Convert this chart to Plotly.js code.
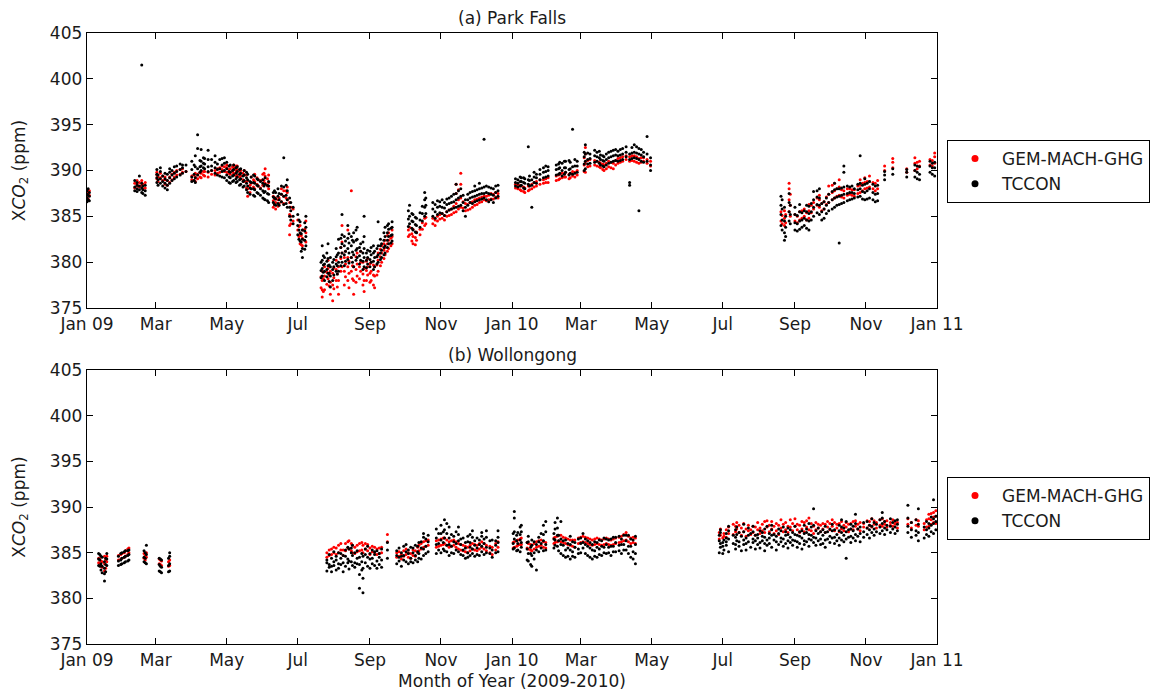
<!DOCTYPE html>
<html>
<head>
<meta charset="utf-8">
<script src="https://cdn.plot.ly/plotly-3.0.1.min.js"></script>
<style>html,body{margin:0;padding:0;background:#fff;}#chart{width:1169px;height:696px;}</style>
</head>
<body>
<div id="chart"></div>
<script>
// ---- Tick labels ----
const tickVals = ['2009-01-01','2009-03-01','2009-05-01','2009-07-01','2009-09-01','2009-11-01',
  '2010-01-01','2010-03-01','2010-05-01','2010-07-01','2010-09-01','2010-11-01','2011-01-01'];
const tickText = ['Jan 09','Mar','May','Jul','Sep','Nov','Jan 10','Mar','May','Jul','Sep','Nov','Jan 11'];
const yTicks = [375,380,385,390,395,400,405];

// ---- (a) Park Falls, GEM-MACH-GHG: [date, values...] ----
const pfGem = [
['2009-01-01',387.1,387.6,387.9],['2009-01-02',386.9,387.4],['2009-01-03',387.3,387.8],
['2009-02-11',388.1,388.6],['2009-02-13',388.3,388.9,388.5],['2009-02-15',388.2,388.7],['2009-02-17',388.4,388.9],['2009-02-18',388.0,388.5],['2009-02-20',388.1,388.7],
['2009-03-02',389.1,389.5,389.8],['2009-03-03',388.8,389.3],['2009-03-05',389.2,389.7],['2009-03-07',388.9,389.4],['2009-03-09',388.5,389.0,389.3],
['2009-03-11',388.4,388.9],['2009-03-13',388.7,389.3],['2009-03-15',389.0,389.6],['2009-03-17',389.3,389.8],['2009-03-19',389.5,390.0],
['2009-03-22',389.6,390.1],['2009-03-24',389.8,390.2],['2009-03-27',389.9],
['2009-04-01',389.0,389.4],['2009-04-03',388.9,389.5],['2009-04-04',388.8,389.3,389.7],['2009-04-06',389.1,389.6],['2009-04-08',389.3,389.8],
['2009-04-09',389.2,389.7],['2009-04-11',389.5,389.9],['2009-04-12',389.4,389.9],['2009-04-15',389.3,389.8],['2009-04-18',389.6,390.0],
['2009-04-21',389.5,390.0],['2009-04-23',389.7,390.2],['2009-04-25',389.8,390.3],['2009-04-27',390.1,390.5],['2009-04-29',389.9,390.4],
['2009-05-01',389.8,390.3,390.6],['2009-05-03',389.7,390.1],['2009-05-04',389.6,390.2],['2009-05-06',389.9,390.4],['2009-05-07',389.7,390.3,390.6],
['2009-05-09',389.4,390.0,390.5],['2009-05-10',389.5,390.1,390.5],['2009-05-12',389.3,389.9],['2009-05-13',389.4,390.0],['2009-05-15',389.0,389.7],
['2009-05-16',388.8,389.5,390.0],['2009-05-18',388.1,388.8,389.5],['2009-05-19',387.2,388.0,388.9],['2009-05-21',387.6,388.4],['2009-05-22',388.6,389.3],
['2009-05-24',388.2,389.0],['2009-05-25',388.0,388.8,389.6],['2009-05-27',388.5,389.2],['2009-05-28',388.3,389.0],['2009-05-30',388.1,388.9],
['2009-06-01',388.4,389.0,389.6],['2009-06-02',388.9,389.7],['2009-06-03',388.6,389.4,390.2],['2009-06-05',388.3,389.1],['2009-06-06',388.0,388.7,389.5],
['2009-06-10',386.0,386.7,387.2],['2009-06-11',386.3,386.9],['2009-06-12',385.8,386.5,387.0],['2009-06-14',386.1,386.8],['2009-06-15',386.4,387.0],
['2009-06-17',386.6,387.4,388.0],['2009-06-19',386.4,387.2,387.8],['2009-06-21',387.0,387.8],['2009-06-22',386.8,387.6,388.2],
['2009-06-24',383.0,384.0,385.2,386.5],['2009-06-25',384.2,385.0,386.0],['2009-06-27',384.5,385.8],
['2009-07-01',383.5,384.6],['2009-07-02',382.8,383.9],['2009-07-03',382.0,383.0,384.0],['2009-07-04',381.9,382.9],['2009-07-05',381.8,382.6,383.5],
['2009-07-07',382.4,383.6],['2009-07-08',382.2,383.2,384.5],
['2009-07-21',377.2,378.4],['2009-07-22',376.2,377.0,378.0,379.0],['2009-07-23',376.8,378.2],['2009-07-24',377.0,378.5,379.5],['2009-07-26',377.6,378.9],
['2009-07-27',378.2,379.3,380.2],['2009-07-28',377.4,378.6],['2009-07-29',376.5,377.8,379.0],['2009-07-31',375.8,377.5,378.8],['2009-08-01',377.1,378.3,379.4],
['2009-08-03',378.0,379.2,380.2],['2009-08-04',377.3,378.7],['2009-08-05',376.5,378.0,379.5],['2009-08-07',379.0,380.4,381.6],['2009-08-08',379.5,381.0,382.2,384.0],
['2009-08-10',377.5,379.0,380.5],['2009-08-11',378.4,379.8,381.2],['2009-08-13',378.0,379.5,380.5,383.5],['2009-08-14',377.2,378.8,380.1],
['2009-08-16',379.0,380.5,387.8],['2009-08-17',378.2,379.6],['2009-08-18',376.5,378.0,379.5],['2009-08-20',377.8,379.2,380.6],['2009-08-21',378.5,379.8,381.0],
['2009-08-23',378.2,379.5],['2009-08-24',379.0,380.0,381.2],['2009-08-26',377.5,378.7,380.0],['2009-08-27',376.8,378.0,379.3],['2009-08-29',378.0,379.1,380.1],
['2009-08-30',378.6,379.5,380.4],['2009-09-01',377.8,378.8,379.8],['2009-09-02',378.0,379.0,380.0],['2009-09-04',377.5,378.6,379.7],['2009-09-05',377.2,378.5,379.5],
['2009-09-07',378.6,379.7,380.6],['2009-09-08',379.0,380.2,381.0],['2009-09-10',379.6,380.6,381.4],['2009-09-11',380.0,381.0,381.8],['2009-09-13',380.4,381.3,382.0],
['2009-09-14',380.8,381.6,382.4],['2009-09-16',381.2,382.0,382.9],['2009-09-17',381.5,382.4,383.2],['2009-09-19',381.8,382.6],['2009-09-20',382.0,382.8,383.5],
['2009-10-04',382.8,383.5],['2009-10-05',383.0,383.8],['2009-10-07',382.3,383.1],['2009-10-08',382.0,382.8,383.6],['2009-10-10',381.9,382.7],
['2009-10-11',382.4,383.3],['2009-10-14',383.0,383.6],['2009-10-16',383.6,384.3],['2009-10-18',384.0,384.8],['2009-10-19',384.2,384.9],
['2009-10-25',384.2,384.8],['2009-10-27',384.0,384.6],['2009-10-29',384.5,385.0],['2009-10-31',384.7,385.2],['2009-11-02',384.8,385.3],
['2009-11-04',384.6,385.1],['2009-11-06',385.0,385.5],['2009-11-08',385.1,385.7],['2009-11-10',385.2,385.8],['2009-11-12',385.4,386.1],
['2009-11-14',385.5,386.4,387.5,388.5],['2009-11-16',385.8,386.8,387.9],['2009-11-18',386.0,387.0,388.5,389.7],['2009-11-20',385.9,386.6],
['2009-11-22',385.6,386.4],['2009-11-24',385.7,386.3],['2009-11-26',385.8,386.5],['2009-11-28',386.0,386.6],['2009-11-30',386.2,386.8],
['2009-12-02',386.3,386.9],['2009-12-04',386.5,387.0],['2009-12-06',386.6,387.1],['2009-12-08',386.8,387.2],['2009-12-10',386.7,387.2],
['2009-12-12',386.8,387.3],['2009-12-14',386.9,387.5],['2009-12-16',386.9,387.4],['2009-12-18',387.1,387.6],['2009-12-20',387.0,387.5],
['2010-01-04',388.1,388.5],['2010-01-06',388.0,388.4],['2010-01-08',387.9,388.4],['2010-01-09',387.8,388.3],['2010-01-11',387.7,388.2],
['2010-01-12',387.6,388.1],['2010-01-15',387.8,388.3],['2010-01-16',387.9,388.4],['2010-01-18',388.0,388.5],['2010-01-20',388.2,388.7],
['2010-01-22',388.3,388.8],['2010-01-25',388.5,389.0],['2010-01-28',388.6,389.0],['2010-01-30',388.7,389.1],['2010-02-01',388.7,389.2],
['2010-02-08',388.9,389.4],['2010-02-10',389.0,389.5],['2010-02-11',389.1,389.6],['2010-02-13',389.2,389.7],['2010-02-15',389.3,389.7],
['2010-02-16',389.3,389.8],['2010-02-19',389.1,389.6],['2010-02-20',389.2,389.7],['2010-02-22',389.4,389.9],['2010-02-24',389.3,389.8],
['2010-02-26',389.5,390.0],['2010-03-04',389.9,390.6,391.4],['2010-03-05',389.8,390.8,391.8,392.5],['2010-03-07',390.4,391.1],['2010-03-09',390.5,391.2],
['2010-03-13',390.6,391.1],['2010-03-15',390.5,391.0],['2010-03-17',390.4,390.9],['2010-03-18',390.3,390.8],['2010-03-20',390.1,390.7],
['2010-03-21',390.0,390.6],['2010-03-23',390.2,390.8],['2010-03-25',390.4,391.0],['2010-03-27',390.3,390.9],['2010-03-29',390.2,390.8],
['2010-03-31',390.6,391.1],['2010-04-02',390.8,391.3],['2010-04-04',390.9,391.4],['2010-04-06',391.0,391.5],['2010-04-09',391.2,391.6],
['2010-04-12',391.0,391.5],['2010-04-14',391.1,391.6],['2010-04-16',391.0,391.6],['2010-04-18',390.9,391.5],['2010-04-20',390.8,391.3],
['2010-04-22',390.9,391.4],['2010-04-24',391.0,391.4],['2010-04-27',390.8,391.2],['2010-04-30',390.5,391.0],
['2010-08-20',384.5,385.5],['2010-08-21',384.2,385.1],['2010-08-23',384.0,384.8,385.6],['2010-08-24',384.3,385.2],['2010-08-27',385.5,386.8,388.0,388.6],
['2010-08-28',385.0,386.2,387.4],['2010-09-01',384.5,385.2],['2010-09-03',384.3,385.0],['2010-09-05',384.6,385.5],['2010-09-07',384.8,385.6],
['2010-09-09',385.0,385.8],['2010-09-11',384.6,385.4],['2010-09-13',384.8,385.6,386.3],['2010-09-15',385.4,386.2],['2010-09-17',385.8,386.5],
['2010-09-20',386.2,387.0],['2010-09-22',386.0,386.8,387.3],['2010-09-24',385.6,386.4],['2010-09-26',385.8,386.6],['2010-09-28',386.3,387.1],
['2010-09-30',386.5,387.4,388.3],['2010-10-03',386.8,387.6,388.4],['2010-10-05',387.0,387.8,388.6],['2010-10-07',387.2,388.0],
['2010-10-09',387.3,388.2,389.0],['2010-10-11',387.1,387.9],['2010-10-13',387.0,387.8],['2010-10-16',387.3,388.0],['2010-10-18',387.4,388.0],
['2010-10-20',387.3,387.9],['2010-10-22',387.2,387.9],['2010-10-25',387.5,388.3],['2010-10-27',387.6,388.4,389.0],['2010-10-29',387.8,388.6],
['2010-10-31',388.0,388.7,389.2],['2010-11-02',388.1,388.8],['2010-11-04',388.2,388.8,389.4],['2010-11-07',388.0,388.7],['2010-11-09',387.8,388.6],
['2010-11-11',388.0,388.9],['2010-11-17',390.0,390.5],['2010-11-24',390.3,390.9,391.3],['2010-12-06',389.8,390.2],['2010-12-13',390.0,390.8,391.4],
['2010-12-15',390.2,390.9],['2010-12-17',390.5,391.0],['2010-12-26',390.6,391.2],['2010-12-28',390.5,391.1],['2010-12-30',390.8,391.5,391.9]
];
// ---- (a) Park Falls, TCCON ----
const pfTccon = [
['2009-01-01',386.6,387.0,387.4,387.8],['2009-01-02',386.8,387.3,388.0],['2009-01-03',386.7,387.2,387.6],
['2009-02-11',387.8,388.2,388.9],['2009-02-13',388.0,388.4,388.7,387.7],['2009-02-15',387.9,388.3,389.4],['2009-02-17',387.6,388.1,388.6,401.5],
['2009-02-18',387.5,387.9,388.3],['2009-02-20',387.3,387.8,388.4],
['2009-03-02',388.7,389.2,389.6,390.1],['2009-03-03',388.4,389.0,389.5],['2009-03-05',388.6,389.1,389.9,390.3],['2009-03-07',388.3,388.8,389.4],
['2009-03-09',388.1,388.6,389.1,389.7],['2009-03-11',387.9,388.4,388.9,389.6],['2009-03-13',388.6,389.2,389.8,390.2],['2009-03-15',388.9,389.5,390.0],
['2009-03-17',389.1,389.7,390.4],['2009-03-19',389.3,389.9,390.5],['2009-03-22',389.5,390.1,390.7],['2009-03-24',389.7,390.3,390.6],['2009-03-27',389.9,390.6],
['2009-04-01',388.8,389.3,390.1,391.0],['2009-04-03',388.9,389.6,390.6],['2009-04-04',388.7,389.2,390.4,391.6],['2009-04-06',389.5,390.2,392.4,393.9],
['2009-04-08',389.8,390.4,391.1],['2009-04-09',390.0,390.5,391.0,392.3],['2009-04-11',390.3,390.8,391.4],['2009-04-12',390.2,390.7,391.3],
['2009-04-15',389.9,390.4,391.2,392.2],['2009-04-18',390.0,390.5,391.2],['2009-04-21',389.7,390.3,390.9,391.6],['2009-04-23',389.5,390.1,390.7],
['2009-04-25',389.4,390.2,391.2],['2009-04-27',389.3,389.9,390.6,391.3],['2009-04-29',389.2,390.0,390.8,391.4],
['2009-05-01',388.9,389.5,390.2,390.9],['2009-05-03',388.7,389.3,389.9,390.5],['2009-05-04',388.6,389.2,389.8,390.6],['2009-05-06',388.8,389.4,390.0],
['2009-05-07',388.9,389.5,390.1,390.6],['2009-05-09',388.7,389.1,389.7,390.3],['2009-05-10',388.8,389.3,389.9,390.4],['2009-05-12',388.4,389.0,389.6,390.1],
['2009-05-13',388.5,389.1,389.7,390.2],['2009-05-15',388.2,388.8,389.4],['2009-05-16',388.3,388.9,389.5,390.0],['2009-05-18',387.9,388.6,389.2,389.8],
['2009-05-19',387.6,388.3,389.0,389.6],['2009-05-21',387.4,388.1,388.8],['2009-05-22',388.0,388.7,389.3],['2009-05-24',387.3,388.0,388.7,389.5],
['2009-05-25',387.2,387.9,388.6,389.4],['2009-05-27',387.6,388.4,389.1],['2009-05-28',387.5,388.3,389.0],['2009-05-30',387.3,388.0,388.8],
['2009-06-01',387.0,387.8,388.6,389.0],['2009-06-02',386.9,387.6,388.3],['2009-06-03',386.8,387.7,388.5,389.2],['2009-06-05',386.7,387.5,388.4],
['2009-06-06',386.5,387.4,388.3,388.8],['2009-06-10',386.5,387.1,387.6],['2009-06-11',386.3,387.0,387.8],['2009-06-12',386.2,386.9,387.6],
['2009-06-14',386.4,387.2,388.0],['2009-06-15',386.2,386.8,387.5],['2009-06-17',386.6,387.4,388.3],['2009-06-19',386.3,387.2,388.2,391.4],
['2009-06-21',386.4,387.3,388.4],['2009-06-22',386.0,386.8,387.8,389.0],['2009-06-24',385.0,386.0,387.0],['2009-06-25',384.6,385.6,386.5],
['2009-06-27',384.2,385.0,386.0],
['2009-07-01',383.0,384.0,385.2],['2009-07-02',382.5,383.5,384.6],['2009-07-03',382.3,383.2,384.4],['2009-07-04',381.2,382.2,383.1],
['2009-07-05',380.5,381.5,382.5,383.5],['2009-07-07',381.4,382.4,383.4,384.3],['2009-07-08',381.8,382.8,383.8,385.0],
['2009-07-21',378.3,379.1,380.0],['2009-07-22',378.5,379.3,380.2,381.8],['2009-07-23',378.9,379.7,380.7],['2009-07-24',378.0,379.0,379.8,380.5],
['2009-07-26',378.4,379.2,380.1,381.0],['2009-07-27',378.8,379.6,380.4,382.0],['2009-07-28',377.9,378.8,379.7],['2009-07-29',377.3,378.5,379.5,380.5],
['2009-07-31',378.0,379.2,380.0],['2009-08-01',378.6,379.5,380.3],['2009-08-03',379.0,379.8,380.6,381.5],['2009-08-04',378.7,379.6,380.8],
['2009-08-05',379.0,380.0,381.0,382.5],['2009-08-07',379.6,380.6,381.6,382.6],['2009-08-08',380.0,381.0,382.0,383.0,385.2],
['2009-08-10',379.6,380.8,381.8,382.8],['2009-08-11',380.1,381.2,382.3],['2009-08-13',380.3,381.5,382.6,384.0],['2009-08-14',379.9,381.0,382.1,383.1],
['2009-08-16',380.5,381.8,382.8],['2009-08-17',380.0,381.1,382.4],['2009-08-18',379.5,380.8,382.2,383.2],['2009-08-20',380.2,381.3,382.4,383.5],
['2009-08-21',380.5,381.5,382.5,383.8],['2009-08-23',379.8,380.7,381.6],['2009-08-24',380.2,381.2,382.0],['2009-08-26',379.2,380.1,381.0,382.2],
['2009-08-27',379.5,380.5,381.5,382.8,385.0],['2009-08-29',379.4,380.2,381.0],['2009-08-30',379.8,380.5,381.3],['2009-09-01',379.5,380.3,381.2],
['2009-09-02',380.0,380.8,381.6],['2009-09-04',379.2,380.1,381.0,381.8],['2009-09-05',379.5,380.5,381.2],['2009-09-07',379.8,380.6,381.5],
['2009-09-08',380.0,380.8,381.8,384.4],['2009-09-10',380.3,381.0,381.8,382.5],['2009-09-11',380.5,381.3,382.0],['2009-09-13',380.8,381.6,382.4,383.2],
['2009-09-14',381.0,381.8,382.8,383.8],['2009-09-16',381.6,382.4,383.2,384.0],['2009-09-17',382.0,382.8,383.6,384.2],['2009-09-19',382.1,382.9,383.7],
['2009-09-20',382.3,383.0,383.8,384.4],
['2009-10-04',383.9,384.7,385.6],['2009-10-05',384.2,385.0,386.2],['2009-10-07',383.7,384.5,385.3],['2009-10-08',383.5,384.4,385.2],
['2009-10-10',383.3,384.1,384.9],['2009-10-11',383.2,384.0,384.8],['2009-10-14',383.8,384.6,385.4],['2009-10-16',384.5,385.3,386.1],
['2009-10-18',385.0,386.0,386.8,387.6],['2009-10-19',385.3,386.2,387.0],['2009-10-25',385.0,385.8,386.5],['2009-10-27',384.8,385.5,386.3],
['2009-10-29',385.2,386.0,386.7],['2009-10-31',385.4,386.1,386.6],['2009-11-02',385.3,386.0,386.8],['2009-11-04',385.1,385.9,386.5],
['2009-11-06',385.5,386.3,386.9],['2009-11-08',385.7,386.4,387.0],['2009-11-10',385.8,386.5,387.2],['2009-11-12',385.9,386.6,387.4],
['2009-11-14',386.0,386.8,387.5,388.5],['2009-11-16',386.1,387.0,387.8],['2009-11-18',386.2,387.2,388.0],['2009-11-20',385.6,386.5,387.3],
['2009-11-22',385.0,386.0,386.8],['2009-11-24',386.2,386.8,387.4],['2009-11-26',386.5,387.0,387.6],['2009-11-28',386.4,387.1,387.7],
['2009-11-30',386.6,387.2,387.8,388.3],['2009-12-02',386.7,387.3,387.9],['2009-12-04',386.8,387.4,388.0,388.6],['2009-12-06',386.9,387.5,388.1],
['2009-12-08',387.0,387.5,388.2,393.4],['2009-12-10',386.8,387.6,388.3],['2009-12-12',386.6,387.5,388.2],['2009-12-14',386.8,387.4,388.1],
['2009-12-16',386.5,387.3,388.0],['2009-12-18',387.0,387.6,388.3],['2009-12-20',387.2,387.8,388.4],
['2010-01-04',388.3,388.7,389.1],['2010-01-06',388.2,388.6,389.0],['2010-01-08',388.3,388.8,389.3],['2010-01-09',388.4,388.8,389.2],
['2010-01-11',388.1,388.7,389.2],['2010-01-12',388.0,388.6,389.1],['2010-01-15',388.5,389.0,392.6],['2010-01-16',388.3,388.9,389.4],
['2010-01-18',388.4,389.0,386.0],['2010-01-20',388.7,389.3,389.8],['2010-01-22',388.6,389.2,389.6],['2010-01-25',389.0,389.6,390.1],
['2010-01-28',389.2,389.8,390.3],['2010-01-30',389.3,389.9,390.5],['2010-02-01',389.4,390.0,390.4],['2010-02-08',389.5,390.1,390.6],
['2010-02-10',389.6,390.2,390.7],['2010-02-11',389.7,390.3,390.9],['2010-02-13',389.4,390.0,390.8],['2010-02-15',389.6,390.3,391.0],
['2010-02-16',389.8,390.3,391.0],['2010-02-19',389.5,390.1,391.1],['2010-02-20',389.7,390.2,390.9],['2010-02-22',389.6,390.4,394.5],
['2010-02-24',389.7,390.5,391.2],['2010-02-26',389.8,390.5,391.0],['2010-03-04',390.0,390.7,391.5,392.0],['2010-03-05',390.2,391.0,391.8,392.8],
['2010-03-07',390.7,391.2,391.9],['2010-03-09',390.8,391.3,391.8],['2010-03-13',390.9,391.6,392.2],['2010-03-15',391.0,391.5,392.0],
['2010-03-17',390.8,391.4,392.1],['2010-03-18',390.6,391.2,391.7],['2010-03-20',390.5,391.1,391.6],['2010-03-21',390.4,391.0,391.5],
['2010-03-23',390.6,391.2,391.8],['2010-03-25',390.8,391.4,392.0],['2010-03-27',390.9,391.5,392.1],['2010-03-29',391.0,391.6,392.2],
['2010-03-31',391.1,391.7,392.3],['2010-04-02',391.0,391.6,392.1],['2010-04-04',391.1,391.7,392.3],['2010-04-06',391.2,391.8,392.4],
['2010-04-09',391.5,392.0,392.6],['2010-04-12',388.4,388.7,391.2,391.8],['2010-04-14',391.3,391.9,392.5],['2010-04-16',391.4,392.0,392.8],
['2010-04-18',391.3,391.9,392.6],['2010-04-20',385.6,391.2,391.8,392.4],['2010-04-22',391.0,391.7,392.3],['2010-04-24',390.9,391.5,392.0],
['2010-04-27',391.0,391.8,393.7],['2010-04-30',390.0,390.6,391.4],
['2010-08-20',384.0,385.2,386.2,387.2],['2010-08-21',383.5,384.6,385.8,386.8],['2010-08-23',382.4,383.2,384.5,386.0],['2010-08-24',382.8,383.8,385.0],
['2010-08-27',384.5,385.5,386.5,387.5],['2010-08-28',384.2,385.2,386.2],['2010-09-01',383.5,384.3,385.2,386.0],['2010-09-03',383.4,384.2,385.1],
['2010-09-05',383.6,384.5,385.5,386.3],['2010-09-07',383.8,384.6,385.4],['2010-09-09',384.0,384.8,385.6],['2010-09-11',383.7,384.6,385.5,386.2],
['2010-09-13',383.5,384.5,385.3,386.1],['2010-09-15',384.6,385.5,386.4],['2010-09-17',385.0,386.0,386.8,387.7],['2010-09-20',385.4,386.3,387.1,387.8],
['2010-09-22',385.2,386.2,387.0,388.0],['2010-09-24',384.6,385.5,386.4],['2010-09-26',384.8,385.8,386.6],['2010-09-28',385.3,386.2,387.0],
['2010-09-30',385.6,386.5,387.4],['2010-10-03',385.8,386.8,387.7],['2010-10-05',386.0,387.0,387.9,388.6],['2010-10-07',386.2,387.1,388.0],
['2010-10-09',386.3,387.2,388.0,382.1],['2010-10-11',386.4,387.3,388.1],['2010-10-13',386.5,387.4,388.2,389.8,390.5],['2010-10-16',386.7,387.5,388.3],
['2010-10-18',386.8,387.6,388.2],['2010-10-20',386.9,387.6,388.3],['2010-10-22',387.0,387.5,388.0],['2010-10-25',387.1,387.9,388.5],
['2010-10-27',387.2,388.0,388.6,391.6],['2010-10-29',386.9,387.7,388.4],['2010-10-31',386.8,387.6,388.5,389.1],['2010-11-02',386.9,387.8,388.6],
['2010-11-04',387.0,388.0,388.8],['2010-11-07',386.8,387.6,388.5],['2010-11-09',386.6,387.4,388.3],['2010-11-11',386.7,387.5,388.4],
['2010-11-17',389.0,389.5,389.9],['2010-11-24',389.6,390.2],['2010-12-06',389.3,389.8,390.1],['2010-12-13',389.3,390.0,390.6],
['2010-12-15',389.1,389.8,390.5],['2010-12-17',389.0,389.6,390.4],['2010-12-26',389.8,390.5,391.0],['2010-12-28',389.6,390.3,390.8],
['2010-12-30',389.4,390.3,390.9]
];

// ---- (b) Wollongong, GEM-MACH-GHG ----
const wgGem = [
['2009-01-11',383.9,384.4],['2009-01-12',383.8,384.3],['2009-01-13',383.5,384.1],['2009-01-14',383.4,384.0],['2009-01-16',383.0,383.8,384.6],
['2009-01-17',383.3,384.2],['2009-01-18',384.0,384.6],['2009-01-28',384.2,384.7],['2009-01-30',384.3,384.8],['2009-01-31',384.4,384.9],
['2009-02-02',384.5,385.0],['2009-02-03',384.6,385.2],['2009-02-05',384.8,385.4],['2009-02-06',385.0,385.5],['2009-02-19',384.4,384.9],
['2009-02-20',384.2,384.7],['2009-02-21',384.5,385.0],['2009-03-04',383.8,384.3],['2009-03-05',383.7,384.2],['2009-03-06',383.6,384.1],
['2009-03-12',383.5,384.0],['2009-03-13',383.6,384.2],
['2009-07-26',384.5,385.0],['2009-07-28',384.7,385.3],['2009-07-30',384.8,385.4],['2009-08-01',385.0,385.6],['2009-08-03',384.8,385.5],
['2009-08-05',385.0,385.8],['2009-08-07',385.3,386.0],['2009-08-09',384.7,385.3],['2009-08-11',385.2,386.0],['2009-08-13',385.5,386.2],
['2009-08-14',385.4,386.3],['2009-08-16',385.2,386.0],['2009-08-17',385.0,385.8],['2009-08-19',384.9,385.6],['2009-08-21',385.1,385.8],
['2009-08-23',385.2,386.0],['2009-08-25',385.3,386.1],['2009-08-26',385.0,385.8],['2009-08-28',385.4,386.0],['2009-08-30',385.2,385.9],
['2009-09-01',384.8,385.5],['2009-09-03',385.1,385.7],['2009-09-05',385.0,385.6],['2009-09-07',384.8,385.4],['2009-09-09',384.9,385.5],
['2009-09-11',385.0,385.6],['2009-09-16',386.2,387.0],['2009-09-24',384.5,385.0],['2009-09-26',384.6,385.1],['2009-09-28',384.3,384.8],
['2009-09-30',384.6,385.2],['2009-10-02',384.8,385.4],['2009-10-04',384.5,385.0],['2009-10-06',384.4,384.9],['2009-10-08',384.7,385.3],
['2009-10-10',384.6,385.2],['2009-10-12',385.0,385.6],['2009-10-13',385.2,385.8],['2009-10-15',385.4,386.0],['2009-10-17',385.6,386.2],
['2009-10-19',385.7,386.3],['2009-10-21',385.8,386.4],['2009-10-28',385.6,386.3],['2009-10-30',385.7,386.4],['2009-11-01',385.8,386.5],
['2009-11-03',385.9,386.6],['2009-11-04',386.0,386.6],['2009-11-06',385.8,386.4],['2009-11-08',385.6,386.2],['2009-11-10',385.7,386.3],
['2009-11-12',385.8,386.4],['2009-11-14',385.6,386.2],['2009-11-16',385.4,386.0],['2009-11-18',385.3,385.9],['2009-11-20',385.2,385.8],
['2009-11-22',385.1,385.7],['2009-11-24',385.0,385.6],['2009-11-26',385.2,385.8],['2009-11-28',385.4,386.0],['2009-11-30',385.3,385.9],
['2009-12-02',385.2,385.8],['2009-12-04',385.4,386.0],['2009-12-06',385.6,386.2],['2009-12-08',385.4,386.0],['2009-12-10',385.2,385.8],
['2009-12-13',385.0,385.7],['2009-12-15',384.8,385.6],['2009-12-18',385.3,386.0],['2009-12-20',385.6,386.2],
['2010-01-02',385.5,386.1],['2010-01-03',385.6,386.2],['2010-01-05',385.7,386.3],['2010-01-06',385.8,386.4],['2010-01-08',385.9,386.5],
['2010-01-09',385.9,386.6],['2010-01-14',385.5,386.1],['2010-01-15',385.4,386.0],['2010-01-17',385.3,385.9],['2010-01-18',385.2,385.8],
['2010-01-20',385.4,386.0],['2010-01-22',385.6,386.2],['2010-01-24',385.7,386.3],['2010-01-26',385.8,386.4],['2010-01-28',385.6,386.2],
['2010-01-30',385.5,386.1],['2010-02-06',386.0,386.6],['2010-02-07',386.1,386.7],['2010-02-09',386.2,386.8],['2010-02-10',386.3,386.9],
['2010-02-12',386.2,386.9],['2010-02-14',386.1,386.7],['2010-02-16',386.0,386.6],['2010-02-18',385.9,386.5],['2010-02-20',385.8,386.4],
['2010-02-22',385.7,386.4],['2010-02-24',385.6,386.4],['2010-02-27',386.0,386.6],['2010-03-01',386.1,386.7],['2010-03-03',386.2,386.8],
['2010-03-05',386.1,386.7],['2010-03-07',386.0,386.6],['2010-03-09',385.9,386.5],['2010-03-11',385.8,386.4],['2010-03-13',385.9,386.5],
['2010-03-15',386.0,386.6],['2010-03-17',385.9,386.5],['2010-03-19',385.8,386.4],['2010-03-21',385.9,386.5],['2010-03-23',386.0,386.6],
['2010-03-25',385.9,386.5],['2010-03-27',385.8,386.4],['2010-03-29',385.9,386.5],['2010-03-31',386.0,386.6],['2010-04-03',386.1,386.7],
['2010-04-05',386.2,386.8],['2010-04-07',386.3,387.0],['2010-04-09',386.4,387.2],['2010-04-11',386.2,386.8],['2010-04-13',386.0,386.6],
['2010-04-15',386.1,386.7],['2010-04-17',386.0,386.6],
['2010-06-28',386.5,387.2],['2010-06-29',386.9,387.6],['2010-07-01',386.6],['2010-07-02',386.8,387.1],['2010-07-04',386.7,387.5],
['2010-07-06',387.1,387.8],['2010-07-10',387.0,388.1],['2010-07-12',387.3,387.9],['2010-07-13',387.6,388.3],['2010-07-15',387.2,388.0],
['2010-07-17',386.9,387.7],['2010-07-19',387.3,388.2],['2010-07-21',386.8,387.6],['2010-07-23',387.4,388.0],['2010-07-25',387.0,387.5],
['2010-07-27',387.2,387.9],['2010-07-29',386.9,387.8],['2010-07-31',387.5,388.3],['2010-08-02',387.1,387.7],['2010-08-04',387.4,388.1],
['2010-08-06',387.2,388.4],['2010-08-08',387.8,388.5],['2010-08-10',387.3,388.0],['2010-08-12',387.6,388.4],['2010-08-14',387.1,387.9],
['2010-08-16',387.4,388.2],['2010-08-18',387.0,388.0],['2010-08-20',387.7,388.6],['2010-08-22',387.3,388.1],['2010-08-24',387.5,388.3],
['2010-08-26',387.2,387.9],['2010-08-28',387.8,388.6],['2010-08-30',387.4,388.2],['2010-09-01',387.9,388.7],['2010-09-03',387.5,388.1],
['2010-09-05',387.2,388.0],['2010-09-07',387.6,388.4],['2010-09-09',387.3,388.3],['2010-09-11',387.8,388.5],['2010-09-13',387.5,388.8],
['2010-09-15',387.4,388.2],['2010-09-17',387.1,387.9],['2010-09-19',387.5,388.3],['2010-09-21',387.7,388.1],['2010-09-23',387.3,388.0],
['2010-09-25',387.6,388.2],['2010-09-27',387.2,388.1],['2010-09-29',387.8,388.4],['2010-10-01',387.5,388.2],['2010-10-03',387.9,388.6],
['2010-10-05',387.4,388.3],['2010-10-07',387.7,388.1],['2010-10-09',387.3,388.2],['2010-10-11',387.6,388.4],['2010-10-13',387.4,388.0],
['2010-10-15',387.8,388.3],['2010-10-17',387.3,388.1],['2010-10-19',387.6,388.2],['2010-10-21',387.5,388.4],['2010-10-23',387.9,388.5],
['2010-10-25',387.6,388.1],['2010-10-27',387.4,388.3],['2010-10-30',387.8,388.2],['2010-11-02',387.7,388.5],['2010-11-04',388.0,388.4],
['2010-11-06',387.8,388.7],['2010-11-08',388.1,388.5],['2010-11-10',387.7,388.3],['2010-11-13',388.0,388.6],['2010-11-15',387.9,388.7],
['2010-11-17',388.1,388.4],['2010-11-19',387.8,388.5],['2010-11-22',388.0,388.3],['2010-11-24',387.9,388.6],['2010-11-26',388.1,388.4],
['2010-11-28',387.7,388.3],['2010-12-07',388.1,388.7],['2010-12-10',387.7,388.3],['2010-12-14',388.0,388.6],['2010-12-16',387.9,388.5],
['2010-12-21',387.5,388.2],['2010-12-23',387.8,388.6],['2010-12-25',387.9,388.7,389.2],['2010-12-27',388.1,388.6,389.3],
['2010-12-29',388.3,388.9,389.4],['2010-12-31',388.2,389.0,389.6]
];
// ---- (b) Wollongong, TCCON ----
const wgTccon = [
['2009-01-11',383.6,384.3,384.9],['2009-01-12',383.5,384.2,384.8],['2009-01-13',383.1,383.8,384.6],['2009-01-14',382.8,383.5,384.5],
['2009-01-16',382.7,383.3,381.9,384.0],['2009-01-17',382.9,383.7,384.4],['2009-01-18',383.6,384.3,384.9],['2009-01-28',383.6,384.1,384.6],
['2009-01-30',383.7,384.2,384.9],['2009-01-31',383.8,384.4,385.0],['2009-02-02',383.9,384.5,385.1],['2009-02-03',384.0,384.6,385.2],
['2009-02-05',384.1,384.7,385.2],['2009-02-06',384.2,384.8,385.3],['2009-02-19',384.0,384.5,385.2],['2009-02-20',383.9,384.4,385.0],
['2009-02-21',383.8,384.8,385.8],['2009-03-04',383.0,383.7,384.4],['2009-03-05',382.9,383.5,384.3],['2009-03-06',382.8,383.4,384.2],
['2009-03-12',382.9,383.6,384.4],['2009-03-13',383.0,383.8,384.6,385.0],
['2009-07-26',383.0,383.9,384.2],['2009-07-28',383.4,383.7,384.8],['2009-07-30',382.9,383.5,384.4],['2009-08-01',383.6,384.0,385.1],
['2009-08-03',383.1,384.2,384.6],['2009-08-05',383.3,383.8,385.0],['2009-08-07',383.7,384.4,384.9],['2009-08-09',382.9,383.9,384.7],
['2009-08-11',383.5,384.6,385.3],['2009-08-13',383.9,384.3,385.6],['2009-08-14',383.2,384.1,385.4],['2009-08-16',384.0,385.0,385.5],
['2009-08-17',383.6,384.7,385.8],['2009-08-19',383.4,383.9,385.0],['2009-08-21',383.8,384.4,385.2],['2009-08-23',382.6,383.7,384.5,381.1],
['2009-08-25',383.1,384.0,384.9],['2009-08-26',382.2,383.3,384.6,380.6],['2009-08-28',383.9,384.8,385.4],['2009-08-30',383.5,384.5,385.7],
['2009-09-01',383.3,384.3,384.9],['2009-09-03',383.8,384.4,385.3],['2009-09-05',383.6,384.8,385.1],['2009-09-07',383.3,384.1,385.2],
['2009-09-09',383.7,384.5,384.9],['2009-09-11',383.4,384.2,385.4],['2009-09-16',384.4,385.3,386.1],['2009-09-24',383.8,384.7,385.2],
['2009-09-26',384.1,384.5,385.5],['2009-09-28',383.5,384.6,385.0],['2009-09-30',384.2,384.7,385.7],['2009-10-02',384.0,385.1,385.9],
['2009-10-04',383.8,384.9,385.3],['2009-10-06',384.0,384.4,385.6],['2009-10-08',383.9,385.0,385.5],['2009-10-10',384.2,384.7,385.8],
['2009-10-12',384.0,385.1,385.7],['2009-10-13',384.4,384.9,386.1],['2009-10-15',384.3,385.5,386.2],['2009-10-17',384.7,385.4,386.7,387.1],
['2009-10-19',384.9,385.7,386.5],['2009-10-21',385.1,386.2,386.9],['2009-10-28',384.9,385.9,386.6,387.6],['2009-10-30',385.3,386.0,387.1],
['2009-11-01',385.0,386.4,387.1,388.0],['2009-11-03',385.4,386.1,387.3],['2009-11-04',385.2,386.6,387.5,388.6],['2009-11-06',385.1,385.8,387.1,388.2],
['2009-11-08',384.7,385.9,386.6,387.8],['2009-11-10',385.0,385.7,387.0],['2009-11-12',384.9,386.2,386.8],['2009-11-14',385.3,386.0,387.3],
['2009-11-16',385.1,386.3,387.0,387.8],['2009-11-18',384.8,385.9,386.5],['2009-11-20',384.7,385.3,386.6],['2009-11-22',384.4,385.5,386.1],
['2009-11-24',384.5,385.0,386.2,386.8],['2009-11-26',384.7,385.6,386.1,387.0],['2009-11-28',384.9,385.4,386.7,387.4],['2009-11-30',384.6,385.8,386.3],
['2009-12-02',384.8,385.5,386.6],['2009-12-04',384.7,385.9,386.4],['2009-12-06',385.1,385.7,386.8,387.2],['2009-12-08',384.8,386.0,386.5],
['2009-12-10',385.0,385.6,386.7,387.4],['2009-12-13',384.9,385.5,386.3],['2009-12-15',384.5,385.3,386.4],['2009-12-18',385.0,385.8,386.3],
['2009-12-20',385.1,386.1,386.7,387.4],
['2010-01-02',385.4,386.0,387.1],['2010-01-03',385.5,386.5,387.3,388.8,389.5],['2010-01-05',385.2,386.3,386.9],['2010-01-06',385.3,386.0,387.2],
['2010-01-08',385.1,386.4,387.0,387.8],['2010-01-09',385.6,386.1,387.3,388.0],['2010-01-14',384.2,385.4,386.1],['2010-01-15',384.1,384.9,386.2,386.8],
['2010-01-17',383.7,384.9,385.6],['2010-01-18',383.5,384.7,385.8,386.4],['2010-01-20',384.3,385.0,386.2],['2010-01-22',383.1,385.3,385.9],
['2010-01-24',385.1,386.2,386.7],['2010-01-26',385.5,386.0,387.1],['2010-01-28',385.2,386.3,387.0,388.0],['2010-01-30',385.3,385.9,387.3,388.4],
['2010-02-06',385.5,386.5,387.1],['2010-02-07',385.8,386.4,387.6,388.3],['2010-02-09',385.7,386.9,387.7,388.8],['2010-02-10',385.2,386.3,386.9],
['2010-02-12',384.9,385.9,386.5,388.4],['2010-02-14',384.7,385.8,386.3],['2010-02-16',384.5,385.3,386.4],['2010-02-18',384.6,385.5,386.0],
['2010-02-20',384.3,385.3,385.9,386.8],['2010-02-22',384.6,385.1,386.2],['2010-02-24',384.5,385.6,386.1],['2010-02-27',384.9,385.4,386.5],
['2010-03-01',385.0,386.0,386.6],['2010-03-03',385.5,386.1,387.1],['2010-03-05',384.9,385.9,386.5],['2010-03-07',384.7,385.7,386.3],
['2010-03-09',384.5,385.5,386.1],['2010-03-11',384.3,385.3,385.9],['2010-03-13',384.6,385.2,386.2],['2010-03-15',384.5,385.6,386.1],
['2010-03-17',384.8,385.4,386.4],['2010-03-19',384.7,385.7,386.3],['2010-03-21',385.0,385.6,386.6],['2010-03-23',384.9,385.9,386.5],
['2010-03-25',385.0,385.6,386.4],['2010-03-27',384.7,385.7,386.5],['2010-03-29',385.1,385.7,386.7],['2010-03-31',385.1,386.1,386.7],
['2010-04-03',385.2,385.8,386.8],['2010-04-05',384.9,385.9,386.5],['2010-04-07',385.3,385.9,386.9],['2010-04-09',385.3,386.3,386.9],
['2010-04-11',384.9,385.7,386.9],['2010-04-13',384.5,385.7,386.5],['2010-04-15',384.3,385.1,386.4],['2010-04-17',383.8,384.9,385.9,386.8],
['2010-06-28',385.0,386.3,386.9],['2010-06-29',385.6,386.0,387.2,387.5],['2010-07-01',384.9,385.7,386.1],['2010-07-02',385.3,386.4],
['2010-07-04',385.8,386.2,386.6,387.1],['2010-07-06',385.1,386.5,387.4,387.9],['2010-07-10',386.0,386.9],['2010-07-12',385.4,385.9,386.7,387.5],
['2010-07-13',386.3,387.0,387.8],['2010-07-15',385.7,386.2,387.2],['2010-07-17',385.2,386.8],['2010-07-19',385.9,386.4,387.3,388.1],
['2010-07-21',385.3,386.0,386.6],['2010-07-23',386.2,386.9,387.7],['2010-07-25',385.6,387.1],['2010-07-27',386.1,386.5,387.3,387.9],
['2010-07-29',385.4,386.3,386.9],['2010-07-31',385.9,386.6,387.0],['2010-08-02',385.5,386.1,387.4],['2010-08-04',386.3,386.8,387.2],
['2010-08-06',385.2,386.0,386.7,387.6],['2010-08-08',385.8,386.4,387.9],['2010-08-10',386.0,386.6,387.1],['2010-08-12',385.6,386.9,387.5,388.0],
['2010-08-14',386.4,387.0],['2010-08-16',385.3,386.2,386.8],['2010-08-18',385.9,387.1,387.6],['2010-08-20',386.2,386.6,387.4],
['2010-08-22',385.7,386.5,387.8],['2010-08-24',386.0,386.9,387.3],['2010-08-26',385.5,386.3,387.0,387.7],['2010-08-28',386.1,386.7,387.5],
['2010-08-30',385.8,386.4,387.2],['2010-09-01',386.3,387.0,387.9],['2010-09-03',385.6,386.2,386.9],['2010-09-05',386.0,386.8,387.3],
['2010-09-07',385.4,386.6,387.4],['2010-09-09',385.9,386.3,387.1,388.0],['2010-09-11',386.2,387.2,387.6],['2010-09-13',385.7,386.5,387.0,388.2],
['2010-09-15',386.4,386.9,387.8],['2010-09-17',386.1,386.7,388.0,389.8],['2010-09-19',385.8,386.6,387.4],['2010-09-21',386.3,387.1,387.7],
['2010-09-23',385.9,386.5,387.3],['2010-09-25',386.0,386.9,387.5],['2010-09-27',385.6,386.4,387.2,387.9],['2010-09-29',386.5,387.3],
['2010-10-01',386.1,386.8,387.6],['2010-10-03',386.6,387.4,388.1],['2010-10-05',386.0,386.7,387.5],['2010-10-07',386.3,387.0],
['2010-10-09',385.8,386.6,387.4,388.0],['2010-10-11',386.4,387.2,387.8,388.6],['2010-10-13',386.2,386.9,387.7],['2010-10-15',384.4,386.5,387.3,388.4],
['2010-10-17',386.7,387.5],['2010-10-19',386.1,386.8,387.6,388.1],['2010-10-21',386.6,387.4,387.9],['2010-10-23',386.3,387.0,388.2,389.2],
['2010-10-25',386.8,387.6],['2010-10-27',386.2,387.1,387.8],['2010-10-30',386.7,387.3,388.3],['2010-11-02',387.0,387.7,388.4],
['2010-11-04',386.6,387.5,388.0],['2010-11-06',387.2,387.9,388.7],['2010-11-08',386.9,387.6,388.3],['2010-11-10',387.3,388.1],
['2010-11-13',387.1,387.8,388.6],['2010-11-15',387.4,388.2,388.8,389.4],['2010-11-17',387.0,387.7,388.4],['2010-11-19',387.5,388.0],
['2010-11-22',387.2,387.9,388.7],['2010-11-24',387.6,388.3],['2010-11-26',387.1,387.8,388.5],['2010-11-28',387.4,388.1,388.6],
['2010-12-07',387.2,387.9,388.8,390.2],['2010-12-10',386.7,387.5,388.3],['2010-12-14',386.9,387.4,388.6],['2010-12-16',386.3,387.2,388.1,389.8],
['2010-12-21',386.6,387.8],['2010-12-23',387.0,387.5,388.4],['2010-12-25',386.8,387.7,388.2],['2010-12-27',387.3,388.0,388.9],
['2010-12-29',387.1,388.2,388.7,390.8],['2010-12-31',387.5,388.4,389.0]
];

const seriesNames = ['GEM-MACH-GHG','TCCON'];
const seriesColors = ['#ff0000','#000000'];

function expand(rows){
  const x=[], y=[];
  rows.forEach(r => { for (let k=1;k<r.length;k++){ x.push(r[0]); y.push(r[k]); } });
  return {x, y};
}

const FONT = 'DejaVu Sans, Verdana, sans-serif';
const TXT = '#1a1a1a';
const traces = [];
[[pfGem,pfTccon,'x','y','legend'],[wgGem,wgTccon,'x2','y2','legend2']].forEach(p => {
  [p[0],p[1]].forEach((rows,i) => {
    const d = expand(rows);
    traces.push({type:'scatter', mode:'markers', x:d.x, y:d.y, xaxis:p[2], yaxis:p[3],
      marker:{color:seriesColors[i], size:3}, showlegend:false, hoverinfo:'x+y', name:seriesNames[i]});
  });
  seriesNames.forEach((n,i) => {
    traces.push({type:'scatter', mode:'markers', x:[null], y:[null], xaxis:p[2], yaxis:p[3],
      marker:{color:seriesColors[i], size:7}, name:n, legend:p[4], showlegend:true});
  });
});

const W=1169, H=696;
const xDom = [87/W, 937/W];
function xAxis(showTitle){
  const a = {domain:xDom, type:'date', range:['2009-01-01','2011-01-01'], tickmode:'array',
    tickvals:tickVals, ticktext:tickText, ticks:'inside', ticklen:6, tickcolor:'#000',
    showline:true, linecolor:'#000', linewidth:1.3, mirror:'ticks', showgrid:false, zeroline:false,
    tickfont:{family:FONT, size:17, color:TXT}, automargin:false};
  if (showTitle) a.title = {text:'Month of Year (2009-2010)', font:{family:FONT,size:17,color:TXT}, standoff:6};
  return a;
}
function yAxis(dom, anchor){
  return {domain:dom, anchor:anchor, range:[375,405], tickmode:'array', tickvals:yTicks,
    ticks:'inside', ticklen:6, tickcolor:'#000', showline:true, linecolor:'#000', linewidth:1.3,
    mirror:'ticks', showgrid:false, zeroline:false, tickfont:{family:FONT,size:17,color:TXT},
    title:{text:'X<i>CO</i><sub>2</sub> (ppm)', font:{family:FONT,size:17,color:TXT}, standoff:20},
    automargin:false};
}
function legendBox(top){
  return {x:947/W, y:1-top/H, xanchor:'left', yanchor:'top', bordercolor:'#000', borderwidth:1,
    bgcolor:'#fff', font:{family:FONT,size:17,color:TXT}, itemwidth:44, tracegroupgap:0};
}

const layout = {
  width:W, height:H, margin:{l:0,r:0,t:0,b:0}, paper_bgcolor:'#fff', plot_bgcolor:'#fff',
  font:{family:FONT, color:TXT},
  xaxis: Object.assign(xAxis(false), {anchor:'y'}),
  yaxis: yAxis([1-308/H, 1-33/H], 'x'),
  xaxis2: Object.assign(xAxis(true), {anchor:'y2'}),
  yaxis2: yAxis([1-644/H, 1-370/H], 'x2'),
  legend: legendBox(140),
  legend2: legendBox(477),
  annotations:[
    {text:'(a) Park Falls', xref:'paper', yref:'paper', x:512/W, y:1-18/H, showarrow:false,
     xanchor:'center', yanchor:'middle', font:{family:FONT,size:17,color:TXT}},
    {text:'(b) Wollongong', xref:'paper', yref:'paper', x:512/W, y:1-355/H, showarrow:false,
     xanchor:'center', yanchor:'middle', font:{family:FONT,size:17,color:TXT}}
  ],
  showlegend:true
};

Plotly.newPlot('chart', traces, layout, {displayModeBar:false, staticPlot:true});
</script>
</body>
</html>
